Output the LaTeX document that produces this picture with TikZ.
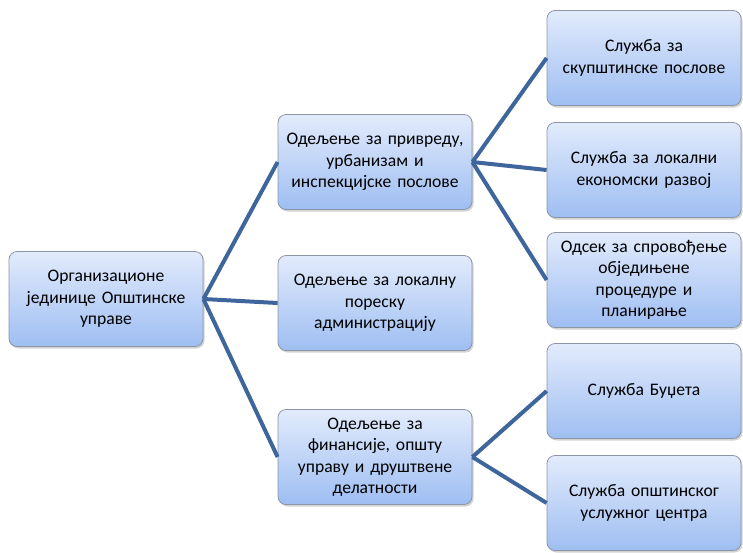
\documentclass[tikz,border=0pt]{standalone}
\usepackage{fontspec}
\setmainfont{Carlito}
\usetikzlibrary{shadows}
\definecolor{linkblue}{RGB}{62,102,156}
\definecolor{boxtop}{RGB}{226,235,252}
\definecolor{boxbot}{RGB}{158,190,242}
\definecolor{boxline}{RGB}{140,150,165}

\begin{document}
\begin{tikzpicture}[x=1pt, y=1pt,
    unit/.style={draw=boxline, line width=0.8pt, rounded corners=8pt,
      top color=boxtop, bottom color=boxbot,
      drop shadow={opacity=0.35, shadow xshift=1.5pt, shadow yshift=-2pt},
      minimum width=194pt, minimum height=95pt, text width=184pt,
      align=center, inner sep=2pt,
      font=\fontsize{17.6}{21.5}\selectfont},
    link/.style={draw=linkblue, line width=4pt}]
  \useasboundingbox (0,0) rectangle (743,-552);

  % Root of the chart
  \node[unit] (root) at (106,-299) {Организационе\\јединице Општинске\\управе};

  % Departments
  \node[unit] (dep1) at (375,-162) {Одељење за привреду,\\урбанизам и\\инспекцијске послове};
  \node[unit] (dep2) at (375,-303) {Одељење за локалну\\пореску\\администрацију};
  \node[unit] (dep3) at (375,-457) {Одељење за\\финансије, општу\\управу и друштвене\\делатности};

  % Services
  \node[unit] (srv1) at (644,-58)  {Служба за\\скупштинске послове};
  \node[unit] (srv2) at (644,-170) {Служба за локални\\економски развој};
  \node[unit] (srv3) at (644,-280) {Одсек за спровођење\\обједињене\\процедуре и\\планирање};
  \node[unit] (srv4) at (644,-391) {Служба Буџета};
  \node[unit] (srv5) at (644,-503) {Служба општинског\\услужног центра};

  % Connectors
  \foreach \d in {dep1, dep2, dep3}
    \draw[link] (root.east) -- (\d.west);
  \foreach \s in {srv1, srv2, srv3}
    \draw[link] (dep1.east) -- (\s.west);
  \foreach \s in {srv4, srv5}
    \draw[link] (dep3.east) -- (\s.west);
\end{tikzpicture}
\end{document}
